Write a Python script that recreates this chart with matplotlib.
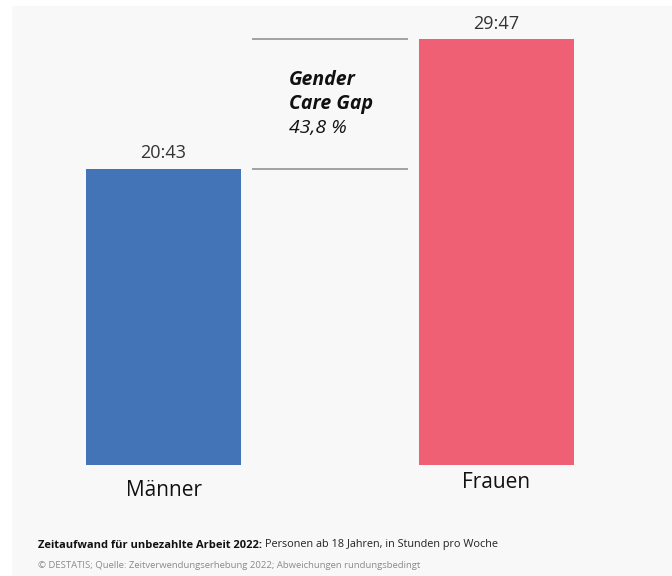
import matplotlib.pyplot as plt
from matplotlib.patches import Rectangle

# data
categories = ['Männer', 'Frauen']
hours = [20 + 43 / 60, 29 + 47 / 60]
value_labels = ['20:43', '29:47']
colors = ['#4374b7', '#f06075']
gap_label = '43,8 %'

W, H = 672, 576
plt.rcParams['font.family'] = ['Open Sans', 'DejaVu Sans']

fig = plt.figure(figsize=(W / 100, H / 100), dpi=100, facecolor='white')
# light grey panel, behind everything
fig.patches.append(Rectangle((12 / W, 0), 1 - 12 / W, 1 - 6 / H, transform=fig.transFigure,
                             facecolor='#f8f8f8', edgecolor='none', zorder=-10))

px_per_unit = 333.0   # pixels between bar centres
bottom_px = 465
ax = fig.add_axes([0, 1 - bottom_px / H, 1, (bottom_px - 6) / H])
ax.set_facecolor('none')
ax.set_zorder(1)
ax.set_xlim(-163.5 / px_per_unit, (W - 163.5) / px_per_unit)
px_per_hour = 426 / hours[1]
ax.set_ylim(0, (bottom_px - 6) / px_per_hour)
ax.axis('off')

x = [0, 1]
ax.bar(x, hours, width=155 / px_per_unit, color=colors, zorder=2)

for xi, h, lab in zip(x, hours, value_labels):
    ax.text(xi, h + 0.45, lab, ha='center', va='bottom', fontsize=13, color='#333333')

# gap lines
x0, x1 = (252 - 163.5) / px_per_unit, (408 - 163.5) / px_per_unit
ax.hlines(hours, x0, x1, color='#8a8a8a', lw=1.1)

# gap annotation
for txt, ypx, wt in [('Gender', 80, 'bold'), ('Care Gap', 104, 'bold'), (gap_label, 128, 'normal')]:
    fig.text(289 / W, 1 - ypx / H, txt, ha='left', va='center', fontsize=14,
             fontweight=wt, style='italic', color='#111111')

# category labels
fig.text(163.5 / W, 1 - 491 / H, categories[0], ha='center', va='center', fontsize=15, color='#111111')
fig.text(496.5 / W, 1 - 482 / H, categories[1], ha='center', va='center', fontsize=15, color='#111111')

# footer
t = fig.text(38 / W, 1 - 545 / H, 'Zeitaufwand für unbezahlte Arbeit 2022:', ha='left', va='center',
             fontsize=8, fontweight='bold', color='#111111')
fig.canvas.draw()
bb = t.get_window_extent()
fig.text((bb.x1 + 3) / W, 1 - 545 / H, 'Personen ab 18 Jahren, in Stunden pro Woche', ha='left',
         va='center', fontsize=7.8, color='#222222')
fig.text(38 / W, 1 - 565 / H, '© DESTATIS; Quelle: Zeitverwendungserhebung 2022; Abweichungen rundungsbedingt',
         ha='left', va='center', fontsize=6.8, color='#8a8a8a')

fig.savefig('out.png', dpi=100, facecolor='white')
